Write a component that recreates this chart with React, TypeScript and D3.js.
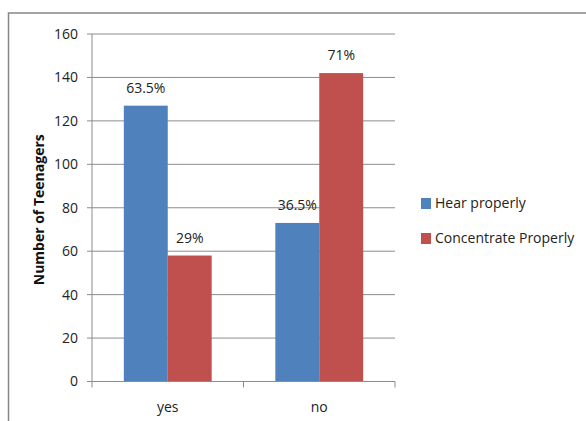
import React from "react";
import * as d3 from "d3";

const categories = ["yes", "no"];
const seriesNames = ["Hear properly", "Concentrate Properly"];
const hearValues = [127, 73];
const concentrateValues = [58, 142];
const hearLabels = ["63.5%", "36.5%"];
const concentrateLabels = ["29%", "71%"];
const yTicks = [0, 20, 40, 60, 80, 100, 120, 140, 160];
const colors = ["#4F81BD", "#C0504D"];

const W = 586;
const H = 421;
const plot = { left: 92, right: 395, top: 34, bottom: 381.5 };
const font = "'Open Sans', 'Noto Sans', sans-serif";

export default function App() {
  const x = d3
    .scaleBand<string>()
    .domain(categories)
    .range([plot.left, plot.right])
    .paddingInner(0.42)
    .paddingOuter(0.21);
  const y = d3.scaleLinear().domain([0, 160]).range([plot.bottom, plot.top]);
  const cat = d3.scaleBand<string>().domain(categories).range([plot.left, plot.right]);
  const sub = d3.scaleBand<number>().domain([0, 1]).range([0, x.bandwidth()]);

  const series = [
    { values: hearValues, labels: hearLabels },
    { values: concentrateValues, labels: concentrateLabels },
  ];

  return (
    <svg width={W} height={H} style={{ position: "absolute", left: 0, top: 0 }}>
      <rect x={0} y={0} width={W} height={H} fill="#fff" />
      {/* chart frame */}
      <path d={`M8.5,${H} L8.5,13 L${W},13`} fill="none" stroke="#868686" strokeWidth={1.5} />

      {/* gridlines */}
      {yTicks.map((t) => (
        <line key={"g" + t} x1={plot.left - 5} x2={plot.right} y1={y(t)} y2={y(t)} stroke="#8c8c8c" strokeWidth={1} />
      ))}
      {yTicks.map((t) => (
        <text
          key={"yl" + t}
          x={78}
          y={y(t)}
          dy="0.35em"
          textAnchor="end"
          fontFamily={font}
          fontSize={14}
          fill="#222"
        >
          {t}
        </text>
      ))}

      {/* bars */}
      {series.map((s, si) =>
        categories.map((c, ci) => {
          const bx = (x(c) as number) + (sub(si) as number);
          const by = y(s.values[ci]);
          return (
            <g key={`b${si}-${ci}`}>
              <rect x={bx} y={by} width={sub.bandwidth()} height={plot.bottom - by} fill={colors[si]} />
              <text
                x={bx + sub.bandwidth() / 2}
                y={by - 13}
                textAnchor="middle"
                fontFamily={font}
                fontSize={14}
                fill="#222"
              >
                {s.labels[ci]}
              </text>
            </g>
          );
        })
      )}

      {/* axes */}
      <line x1={plot.left} x2={plot.left} y1={plot.top} y2={plot.bottom} stroke="#8c8c8c" strokeWidth={1} />
      <line x1={plot.left} x2={plot.right} y1={plot.bottom} y2={plot.bottom} stroke="#8c8c8c" strokeWidth={1} />
      {[plot.left, ...categories.map((c) => (cat(c) as number) + cat.bandwidth())].map((tx, i) => (
        <line key={"xt" + i} x1={tx} x2={tx} y1={plot.bottom} y2={plot.bottom + 6} stroke="#8c8c8c" strokeWidth={1} />
      ))}
      {categories.map((c) => (
        <text
          key={"xl" + c}
          x={(cat(c) as number) + cat.bandwidth() / 2}
          y={412}
          textAnchor="middle"
          fontFamily={font}
          fontSize={14}
          fill="#222"
        >
          {c}
        </text>
      ))}

      <text
        transform={`translate(44,${(plot.top + plot.bottom) / 2 + 2}) rotate(-90)`}
        textAnchor="middle"
        fontFamily={font}
        fontSize={14}
        fontWeight="bold"
        fill="#111"
      >
        Number of Teenagers
      </text>

      {/* legend */}
      {seriesNames.map((n, i) => (
        <g key={"lg" + i} transform={`translate(421,${198 + i * 35})`}>
          <rect x={0} y={0} width={10} height={11} fill={colors[i]} />
          <text x={14} y={5.5} dy="0.35em" fontFamily={font} fontSize={14} fill="#222">
            {n}
          </text>
        </g>
      ))}
    </svg>
  );
}
